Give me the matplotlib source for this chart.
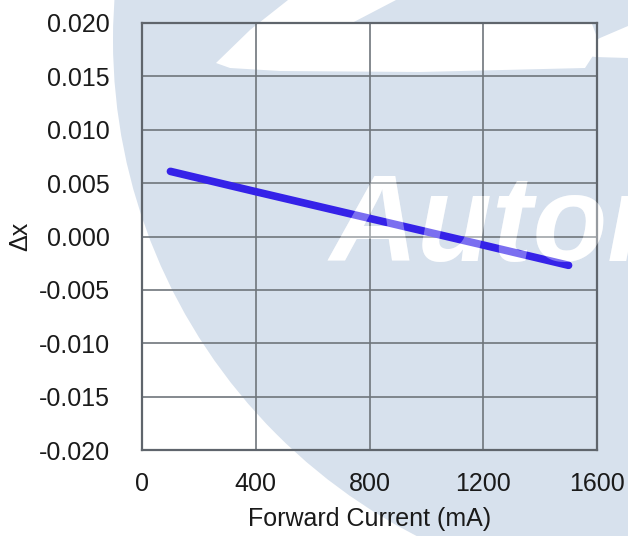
import matplotlib
matplotlib.use("Agg")
import matplotlib.pyplot as plt
from matplotlib.patches import Circle, Polygon

plt.rcParams["font.family"] = ["Liberation Sans", "DejaVu Sans"]

# data
current_ma = [100, 400, 800, 1200, 1500]
delta_x = [0.0061, 0.0042, 0.0017, -0.0008, -0.0027]

x_ticks = [0, 400, 800, 1200, 1600]
y_ticks = [-0.020, -0.015, -0.010, -0.005, 0.000, 0.005, 0.010, 0.015, 0.020]
y_labels = ["-0.020", "-0.015", "-0.010", "-0.005", "0.000",
            "0.005", "0.010", "0.015", "0.020"]

W, H = 628, 536
fig = plt.figure(figsize=(W / 100, H / 100), dpi=100)


def px(pts):
    # image pixel coords (top-left origin) -> figure inches
    return [(x / 100, (H - y) / 100) for x, y in pts]


# watermark background: pale blue disc with white swooshes
wm = "#d7e1ed"
fig.add_artist(Circle((6.70, (H - 40) / 100), 5.57, transform=fig.dpi_scale_trans,
                      facecolor=wm, edgecolor="none", zorder=-2))
swoosh = [(216, 63), (250, 30), (288, 0), (396, 0), (350, 24), (470, 22),
          (592, 24), (600, 45), (585, 68), (420, 72), (280, 71), (230, 68)]
fig.add_artist(Polygon(px(swoosh), closed=True, transform=fig.dpi_scale_trans,
                       facecolor="white", edgecolor="none", zorder=-1))
crescent = [(575, 53), (600, 38), (628, 26), (628, 58), (595, 57)]
fig.add_artist(Polygon(px(crescent), closed=True, transform=fig.dpi_scale_trans,
                       facecolor="white", edgecolor="none", zorder=-1))

# watermark word: solid below the chart, faint veil on top of it
wm_text = dict(fontsize=88, fontstyle="italic", fontweight="bold",
               color="white", va="baseline", ha="left")
fig.text(330 / W, 1 - 261 / H, "Autom", zorder=-1, **wm_text)

ax = fig.add_axes([142 / W, 1 - 450 / H, 455 / W, 427 / H])
ax.set_facecolor("none")

ax.plot(current_ma, delta_x, color="#3522e8", linewidth=5.5,
        solid_capstyle="round", zorder=3)

ax.set_xlim(0, 1600)
ax.set_ylim(-0.020, 0.020)
ax.set_xticks(x_ticks)
ax.set_yticks(y_ticks)
ax.set_yticklabels(y_labels)
ax.tick_params(length=0, labelsize=18, colors="#1a1a1a")
ax.tick_params(axis="y", pad=23)
ax.tick_params(axis="x", pad=16)

ax.grid(True, color="#6f757b", linewidth=1.2)
ax.set_axisbelow(True)
for s in ax.spines.values():
    s.set_color("#5f656c")
    s.set_linewidth(1.6)

ax.set_xlabel("Forward Current (mA)", fontsize=18, color="#1a1a1a", labelpad=8)
ax.set_ylabel("Δx", fontsize=18, color="#1a1a1a", labelpad=5)

fig.text(330 / W, 1 - 261 / H, "Autom", zorder=5, alpha=0.35, **wm_text)

fig.savefig("out.png", dpi=100)
